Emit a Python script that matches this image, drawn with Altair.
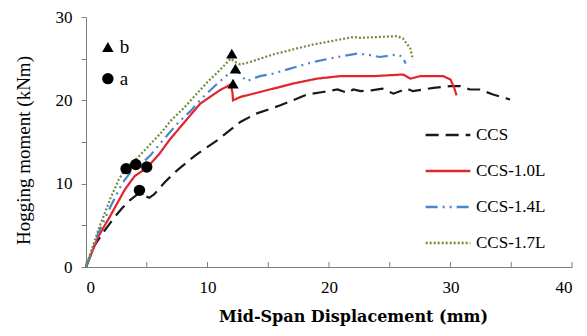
import altair as alt
import pandas as pd

# ---- data ----
ccs_x = [0, 0.7, 1.5, 2.3, 3.0, 3.6, 4.3, 4.8, 5.2, 5.6, 6.5, 7.5, 9.0, 10.8, 12.7, 14.0, 16.0, 18.2, 19.5, 20.7, 21.5, 22.0, 22.6, 23.5, 24.4, 25.3, 26.4, 26.9, 28.6, 30.0, 30.8, 31.6, 32.4, 33.5, 34.9]
ccs_y = [0, 2.6, 4.3, 5.9, 7.1, 8.0, 8.8, 8.6, 8.3, 8.7, 10.2, 11.6, 13.4, 15.2, 17.4, 18.4, 19.4, 20.7, 21.0, 21.3, 20.9, 21.3, 21.1, 21.2, 21.4, 20.8, 21.4, 21.1, 21.5, 21.7, 21.7, 21.3, 21.3, 20.7, 20.1]

l10_x = [0, 1.0, 2.1, 3.2, 4.0, 5.0, 6.0, 6.9, 8.0, 9.4, 10.3, 11.0, 11.9, 12.05, 12.1, 12.7, 13.5, 15.4, 17.0, 19.0, 20.9, 23.6, 26.1, 26.7, 27.5, 29.4, 30.0, 30.3, 30.5]
l10_y = [0, 3.6, 6.4, 9.3, 10.9, 11.9, 13.5, 15.3, 17.2, 19.6, 20.5, 21.2, 21.9, 21.0, 20.0, 20.4, 20.7, 21.4, 22.0, 22.6, 22.9, 22.9, 23.1, 22.6, 22.9, 22.9, 22.5, 21.5, 20.6]

l14_x = [0, 1.0, 2.0, 3.0, 3.8, 4.5, 5.3, 6.5, 7.7, 8.6, 9.5, 10.8, 11.6, 12.3, 12.6, 12.9, 13.2, 14.3, 15.4, 16.8, 18.7, 20.7, 22.3, 23.1, 24.2, 25.6, 26.1, 26.3]
l14_y = [0, 4.0, 7.2, 10.1, 11.6, 12.3, 13.4, 15.5, 17.5, 18.7, 20.2, 22.0, 23.0, 23.8, 23.3, 22.8, 22.3, 22.9, 23.2, 23.8, 24.6, 25.2, 25.6, 25.5, 25.2, 25.5, 25.2, 24.4]

l17_x = [0, 1.0, 2.0, 2.7, 3.3, 4.3, 5.4, 6.3, 7.0, 8.0, 9.0, 10.0, 11.0, 11.9, 12.3, 12.7, 13.5, 15.4, 17.0, 18.7, 20.9, 22.0, 22.6, 24.0, 25.6, 26.1, 26.7, 26.9]
l17_y = [0, 4.4, 8.2, 10.5, 11.9, 13.2, 14.9, 16.3, 17.6, 19.0, 20.6, 22.2, 23.6, 25.0, 24.6, 24.3, 24.6, 25.5, 26.1, 26.7, 27.3, 27.6, 27.5, 27.6, 27.7, 27.4, 26.2, 24.9]

series_names = ["CCS", "CCS-1.0L", "CCS-1.4L", "CCS-1.7L"]
series_colors = ["#1a1a1a", "#e3242b", "#4a86d0", "#6b8e3a"]
series_dashes = [[13, 7], [1, 0], [12, 5, 2, 5, 2, 5], [2, 2]]

# event markers: a (circles) and b (triangles)
a_x = [3.3, 4.1, 5.0, 4.4]
a_y = [11.8, 12.3, 12.0, 9.2]
b_x = [12.0, 12.3, 12.1]
b_y = [25.6, 23.8, 22.0]

# in-plot key for the markers
key_x = [1.8, 1.8]
key_y = [26.4, 22.6]
key_shape = ["triangle-up", "circle"]
key_text = ["b", "a"]

x_ticks = [0, 5, 10, 15, 20, 25, 30, 35, 40]
y_ticks = [0, 5, 10, 15, 20, 25, 30]

# ---- tables ----
rows = []
for name, xs, ys in zip(series_names, [ccs_x, l10_x, l14_x, l17_x], [ccs_y, l10_y, l14_y, l17_y]):
    for i, (xv, yv) in enumerate(zip(xs, ys)):
        rows.append({"series": name, "x": xv, "y": yv, "o": i})
lines_df = pd.DataFrame(rows)

pts = [{"x": xv, "y": yv, "shape": "circle"} for xv, yv in zip(a_x, a_y)]
pts += [{"x": xv, "y": yv, "shape": "triangle-up"} for xv, yv in zip(b_x, b_y)]
pts += [{"x": xv, "y": yv, "shape": s} for xv, yv, s in zip(key_x, key_y, key_shape)]
pts_df = pd.DataFrame(pts)

key_df = pd.DataFrame({"x": key_x, "y": key_y, "t": key_text})
tick_df = pd.DataFrame({"t": x_ticks})

W, H = 486, 250
FONT = "Liberation Serif"

xscale = alt.Scale(domain=[0, 40], nice=False)
yscale = alt.Scale(domain=[0, 30], nice=False)

lines = alt.Chart(lines_df).mark_line(strokeWidth=2.2).encode(
    x=alt.X("x:Q", scale=xscale,
            axis=alt.Axis(title="Mid-Span Displacement (mm)", values=[0, 10, 20, 30, 40],
                          ticks=False, grid=False, labelPadding=12, titlePadding=13,
                          labelFont=FONT, labelFontSize=17,
                          titleFont="DejaVu Serif", titleFontWeight="bold", titleFontSize=16,
                          titleX=267)),
    y=alt.Y("y:Q", scale=yscale,
            axis=alt.Axis(title="Hogging moment (kNm)", values=y_ticks, grid=False,
                          tickSize=5, labelPadding=9, titlePadding=22,
                          labelFont=FONT, labelFontSize=17,
                          labelExpr="datum.value % 10 == 0 ? datum.label : ''",
                          titleFont=FONT, titleFontWeight="normal", titleFontSize=19,
                          titleY=133)),
    color=alt.Color("series:N", scale=alt.Scale(domain=series_names, range=series_colors),
                    legend=alt.Legend(title=None, orient="none", legendX=338, legendY=94,
                                      symbolType="stroke", symbolSize=2000,
                                      symbolStrokeWidth=2.5, rowPadding=4,
                                      labelFont=FONT, labelFontSize=17, labelColor="black",
                                      labelOffset=4)),
    strokeDash=alt.StrokeDash("series:N", scale=alt.Scale(domain=series_names, range=series_dashes)),
    order="o:Q",
)

points = alt.Chart(pts_df).mark_point(filled=True, opacity=1, color="black", size=130).encode(
    x=alt.X("x:Q", scale=xscale),
    y=alt.Y("y:Q", scale=yscale),
    shape=alt.Shape("shape:N", scale=alt.Scale(domain=["circle", "triangle-up"],
                                               range=["circle", "triangle-up"]), legend=None),
)

key_labels = alt.Chart(key_df).mark_text(align="left", baseline="middle", dx=12,
                                         font=FONT, fontSize=19, color="black").encode(
    x=alt.X("x:Q", scale=xscale),
    y=alt.Y("y:Q", scale=yscale),
    text="t:N",
)

xticks = alt.Chart(tick_df).mark_rule(color="#808080", strokeWidth=1).encode(
    x=alt.X("t:Q", scale=xscale),
    y=alt.value(H),
    y2=alt.value(H - 5),
)

chart = alt.layer(xticks, lines, points, key_labels).properties(
    width=W, height=H,
    autosize=alt.AutoSizeParams(type="none"),
    padding={"left": 78, "top": 9, "right": 7, "bottom": 62},
).configure_view(stroke=None).configure_axis(
    domainColor="#808080", tickColor="#808080", domainWidth=1,
    labelFont=FONT, labelFontSize=17, labelColor="black", titleColor="black",
)

chart.save("out.html", embed_options={"renderer": "svg", "actions": False})
